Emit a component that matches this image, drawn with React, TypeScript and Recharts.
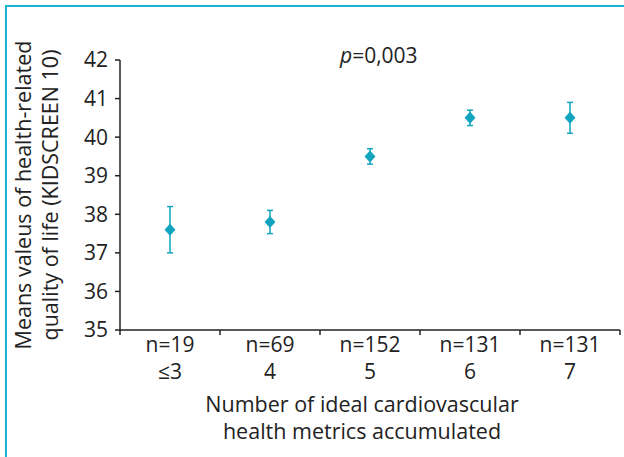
import React from 'react';
import {
  ComposedChart,
  Scatter,
  ErrorBar,
  XAxis,
  YAxis,
  Label,
  Customized,
} from 'recharts';

const categories = ['≤3', '4', '5', '6', '7'];
const sampleSizes = ['n=19', 'n=69', 'n=152', 'n=131', 'n=131'];
const means = [37.6, 37.8, 39.5, 40.5, 40.5];
const lowerCI = [37.0, 37.5, 39.3, 40.3, 40.1];
const upperCI = [38.2, 38.1, 39.7, 40.7, 40.9];
const yTicks = [35, 36, 37, 38, 39, 40, 41, 42];

const TEAL = '#12a4bf';
const BORDER = '#1ab0cf';
const INK = '#222';
const FONT = '"Open Sans", "Noto Sans", sans-serif';

const W = 624;
const H = 457;
const MARGIN = { top: 60, right: 4, bottom: 126, left: 0 };
const Y_AXIS_W = 120;
const BAND = (W - MARGIN.right - Y_AXIS_W) / categories.length;

const data = categories.map((c, i) => ({
  cat: c,
  n: sampleSizes[i],
  mean: means[i],
  err: [means[i] - lowerCI[i], upperCI[i] - means[i]],
}));

const Diamond = (props: any) => {
  const { cx, cy } = props;
  if (cx == null || cy == null) return null;
  return (
    <polygon
      points={`${cx},${cy - 6} ${cx + 5.5},${cy} ${cx},${cy + 6} ${cx - 5.5},${cy}`}
      fill={TEAL}
    />
  );
};

const XTick = (props: any) => {
  const { x, y, index, payload } = props;
  const row = data[index] ?? data.find((d) => d.cat === payload.value);
  const last = index === categories.length - 1;
  return (
    <g>
      <line x1={x - BAND / 2} x2={x - BAND / 2} y1={y} y2={y + 5} stroke={INK} strokeWidth={1.5} />
      {last && <line x1={x + BAND / 2} x2={x + BAND / 2} y1={y} y2={y + 5} stroke={INK} strokeWidth={1.5} />}
      <text x={x} y={y + 22} textAnchor="middle" fontSize={21} fill={INK} fontFamily={FONT}>
        {row?.n}
      </text>
      <text x={x} y={y + 49} textAnchor="middle" fontSize={21} fill={INK} fontFamily={FONT}>
        {payload.value}
      </text>
    </g>
  );
};

const YLabel = (props: any) => {
  const vb = props.viewBox || {};
  const cy = (vb.y ?? 60) + (vb.height ?? 271) / 2;
  return (
    <g fontSize={21.5} fill={INK} fontFamily={FONT}>
      <text x={31} y={cy} transform={`rotate(-90 31 ${cy})`} textAnchor="middle">
        Means valeus of health-related
      </text>
      <text x={58} y={cy} transform={`rotate(-90 58 ${cy})`} textAnchor="middle">
        quality of life (KIDSCREEN 10)
      </text>
    </g>
  );
};

const XTitle = () => (
  <g fontSize={21.5} fill={INK} fontFamily={FONT}>
    <text x={362} y={412} textAnchor="middle">Number of ideal cardiovascular</text>
    <text x={362} y={439} textAnchor="middle">health metrics accumulated</text>
  </g>
);

const PValue = () => (
  <text x={340} y={63} fontSize={21} fill={INK} fontFamily={FONT}>
    <tspan fontStyle="italic">p</tspan>=0,003
  </text>
);

const Frame = () => (
  <g>
    <line x1={5} x2={W} y1={6} y2={6} stroke={BORDER} strokeWidth={2} />
    <line x1={6} x2={6} y1={5} y2={H} stroke={BORDER} strokeWidth={2} />
  </g>
);

export default function App() {
  return (
    <div style={{ width: W, height: H, background: '#fff' }}>
      <style>{'body{margin:0}'}</style>
      <ComposedChart width={W} height={H} data={data} margin={MARGIN}>
        <XAxis
          dataKey="cat"
          type="category"
          scale="band"
          tickLine={false}
          tickSize={0}
          tickMargin={0}
          axisLine={{ stroke: INK, strokeWidth: 1.5 }}
          tick={<XTick />}
          interval={0}
          height={1}
        />
        <YAxis
          type="number"
          domain={[35, 42]}
          ticks={yTicks}
          width={Y_AXIS_W}
          tickSize={5}
          tickMargin={7}
          axisLine={{ stroke: INK, strokeWidth: 1.5 }}
          tickLine={{ stroke: INK, strokeWidth: 1.5 }}
          tick={{ fontSize: 21, fill: INK, fontFamily: FONT }}
          interval={0}
        >
          <Label content={<YLabel />} />
        </YAxis>
        <Scatter dataKey="mean" shape={<Diamond />} isAnimationActive={false}>
          <ErrorBar dataKey="err" width={3} stroke={TEAL} strokeWidth={1.5} direction="y" />
        </Scatter>
        <Customized component={<PValue />} />
        <Customized component={<XTitle />} />
        <Customized component={<Frame />} />
      </ComposedChart>
    </div>
  );
}
